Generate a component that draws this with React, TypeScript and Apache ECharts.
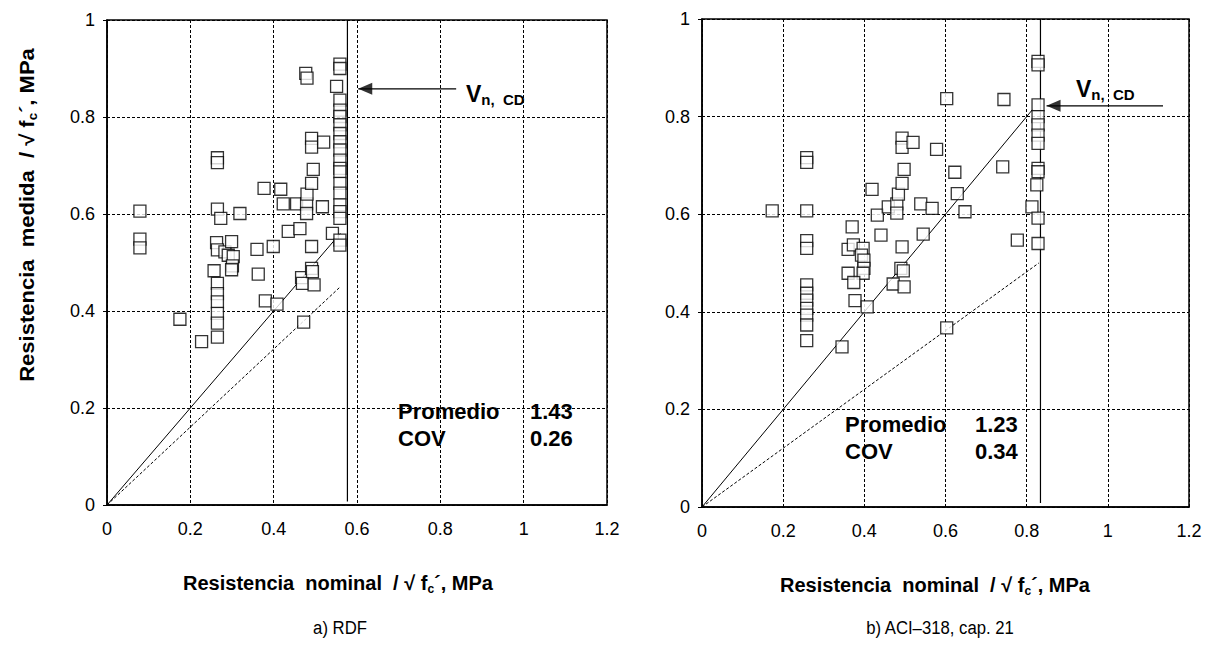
import React, { useEffect, useRef } from "react";
import * as echarts from "echarts";

// ---------- data ----------
const rdfPoints: number[][] = [
  [0.079, 0.606], [0.079, 0.548], [0.079, 0.53],
  [0.175, 0.383], [0.227, 0.337],
  [0.265, 0.716], [0.265, 0.706], [0.265, 0.61], [0.273, 0.591],
  [0.263, 0.541], [0.265, 0.526], [0.257, 0.483],
  [0.265, 0.457], [0.265, 0.436], [0.265, 0.419], [0.265, 0.395], [0.265, 0.375], [0.265, 0.346],
  [0.283, 0.522], [0.291, 0.515], [0.299, 0.543], [0.303, 0.512], [0.301, 0.493], [0.299, 0.485],
  [0.319, 0.601], [0.36, 0.527], [0.363, 0.476], [0.377, 0.653], [0.38, 0.421],
  [0.399, 0.533], [0.408, 0.414], [0.417, 0.651], [0.423, 0.621], [0.435, 0.564],
  [0.455, 0.621], [0.463, 0.57], [0.467, 0.469], [0.469, 0.457], [0.472, 0.377],
  [0.477, 0.89], [0.48, 0.88], [0.479, 0.621], [0.48, 0.641], [0.479, 0.601],
  [0.491, 0.663], [0.495, 0.692], [0.491, 0.756], [0.491, 0.738], [0.52, 0.748],
  [0.517, 0.615], [0.491, 0.533], [0.491, 0.488], [0.493, 0.481], [0.497, 0.454],
  [0.541, 0.56], [0.551, 0.863],
  [0.559, 0.909], [0.559, 0.9], [0.559, 0.835], [0.559, 0.814], [0.559, 0.801], [0.559, 0.784],
  [0.559, 0.766], [0.559, 0.749], [0.559, 0.732], [0.559, 0.711], [0.559, 0.694], [0.559, 0.687],
  [0.559, 0.663], [0.559, 0.643], [0.559, 0.619], [0.559, 0.605], [0.559, 0.591], [0.559, 0.546],
  [0.559, 0.536],
];

const aciPoints: number[][] = [
  [0.173, 0.607],
  [0.258, 0.716], [0.258, 0.706], [0.258, 0.607], [0.258, 0.546], [0.258, 0.53],
  [0.258, 0.455], [0.258, 0.438], [0.258, 0.424], [0.258, 0.407], [0.258, 0.393], [0.258, 0.373], [0.258, 0.341],
  [0.345, 0.328], [0.36, 0.528], [0.373, 0.537], [0.397, 0.53], [0.393, 0.516], [0.399, 0.506],
  [0.399, 0.489], [0.397, 0.479], [0.36, 0.479], [0.374, 0.46], [0.377, 0.423], [0.407, 0.41],
  [0.37, 0.574], [0.419, 0.651], [0.441, 0.557], [0.432, 0.598], [0.459, 0.615], [0.48, 0.621],
  [0.48, 0.602], [0.484, 0.641], [0.493, 0.663], [0.498, 0.692], [0.493, 0.756], [0.493, 0.737],
  [0.52, 0.747], [0.578, 0.733], [0.539, 0.621], [0.567, 0.612], [0.545, 0.559], [0.493, 0.533],
  [0.49, 0.489], [0.496, 0.484], [0.471, 0.457], [0.498, 0.451], [0.603, 0.367], [0.603, 0.837],
  [0.744, 0.835], [0.741, 0.697], [0.629, 0.642], [0.623, 0.686], [0.648, 0.605], [0.777, 0.547],
  [0.813, 0.615],
  [0.828, 0.913], [0.828, 0.906], [0.828, 0.824], [0.828, 0.8], [0.828, 0.783], [0.828, 0.762],
  [0.828, 0.745], [0.828, 0.694], [0.828, 0.687], [0.825, 0.66], [0.828, 0.592], [0.828, 0.54],
];

const rdfIdentity = [[0, 0], [0.56, 0.56]];
const rdfDashed = [[0, 0], [0.56, 0.45]];
const rdfLimit = [[0.577, 0.007], [0.577, 1]];
const rdfArrow = [[0.838, 0.858], [0.603, 0.858]];

const aciIdentity = [[0, 0], [0.815, 0.815]];
const aciDashed = [[0, 0], [0.83, 0.5]];
const aciLimit = [[0.834, 0.008], [0.834, 1]];
const aciArrow = [[1.136, 0.822], [0.849, 0.822]];

const statLabels = ["Promedio", "COV"];
const rdfStats = ["1.43", "0.26"];
const aciStats = ["1.23", "0.34"];

const panelCaptions = ["a) RDF", "b) ACI\u2013318, cap. 21"];

const FONT = "'Liberation Sans', Arial, sans-serif";

function xAxisFor(gridIndex: number) {
  return {
    type: "value",
    gridIndex,
    min: 0,
    max: 1.2,
    interval: 0.2,
    axisLine: { show: true, onZero: false, lineStyle: { color: "#000", width: 1.5 } },
    axisTick: { show: false },
    axisLabel: { color: "#000", fontSize: 18, fontFamily: FONT, margin: 15, showMinLabel: true, showMaxLabel: true },
    splitLine: { show: true, lineStyle: { color: "#000", width: 1, type: [3, 2] } },
  };
}
function yAxisFor(gridIndex: number) {
  return {
    type: "value",
    gridIndex,
    min: 0,
    max: 1,
    interval: 0.2,
    axisLine: { show: true, onZero: false, lineStyle: { color: "#000", width: 1.5 } },
    axisTick: { show: true, length: 4, lineStyle: { color: "#000" } },
    axisLabel: { color: "#000", fontSize: 18, fontFamily: FONT, margin: 12 },
    splitLine: { show: true, lineStyle: { color: "#000", width: 1, type: [3, 2] } },
  };
}

function panelSeries(idx: number, pts: number[][], ident: number[][], dash: number[][], limit: number[][], arrow: number[][]) {
  const base = { xAxisIndex: idx, yAxisIndex: idx, silent: true };
  return [
    { ...base, type: "line", data: ident, symbol: "none", z: 2, lineStyle: { color: "#000", width: 1 } },
    { ...base, type: "line", data: dash, symbol: "none", z: 2, lineStyle: { color: "#000", width: 1, type: [3, 2] } },
    { ...base, type: "line", data: limit, symbol: "none", z: 2, lineStyle: { color: "#000", width: 1.2 } },
    // arrow shaft
    { ...base, type: "line", data: arrow, symbol: "none", z: 3, lineStyle: { color: "#000", width: 1.3 } },
    // arrow head (tip placed on the arrow end point)
    {
      ...base, type: "scatter", data: [arrow[1]], symbol: "triangle", symbolRotate: 90,
      symbolSize: [12, 14], symbolOffset: [7, 0], z: 4,
      itemStyle: { color: "#000" },
    },
    {
      ...base, type: "scatter", data: pts, symbol: "rect", symbolSize: 12, z: 5,
      itemStyle: { color: "#fff", borderColor: "#000", borderWidth: 1.3 },
    },
  ];
}

const richMain = (size: number, weight: string) => ({
  b: { fontSize: size, fontWeight: weight, fontFamily: FONT, fill: "#000", lineHeight: size + 4 },
  s: { fontSize: Math.round(size * 0.62), fontWeight: weight, fontFamily: FONT, fill: "#000", lineHeight: Math.round(size * 0.62), verticalAlign: "bottom" },
});

function statTexts(x1: number, x2: number, y: number, vals: string[]) {
  const st = { fontSize: 22, fontWeight: "bold", fontFamily: FONT, fill: "#000", verticalAlign: "middle" };
  return [
    { type: "text", x: x1, y: y, style: { ...st, text: statLabels[0], align: "left" } },
    { type: "text", x: x1, y: y + 27, style: { ...st, text: statLabels[1], align: "left" } },
    { type: "text", x: x2, y: y, style: { ...st, text: vals[0], align: "left" } },
    { type: "text", x: x2, y: y + 27, style: { ...st, text: vals[1], align: "left" } },
  ];
}

function vnLabel(x: number, y: number) {
  return {
    type: "text", x, y,
    style: {
      text: "{v|V}{s|n,  CD}",
      align: "left", verticalAlign: "middle",
      rich: {
        v: { fontSize: 23, fontWeight: "bold", fontFamily: FONT, fill: "#000", lineHeight: 26 },
        s: { fontSize: 15, fontWeight: "bold", fontFamily: FONT, fill: "#000", lineHeight: 14, verticalAlign: "bottom" },
      },
    },
  };
}

function xTitle(cx: number, y: number) {
  return {
    type: "text", x: cx, y,
    style: {
      text: "{b|Resistencia  nominal  / \u221A f}{s|c}{b|\u00B4, MPa}",
      align: "center", verticalAlign: "middle",
      rich: richMain(20, "bold"),
    },
  };
}

export default function App() {
  const ref = useRef<HTMLDivElement>(null);
  useEffect(() => {
    if (!ref.current) return;
    const chart = echarts.init(ref.current, undefined, { renderer: "svg" });
    const option: any = {
      animation: false,
      backgroundColor: "#fff",
      grid: [
        { left: 107, top: 20, width: 500, height: 485, show: true, borderColor: "#000", borderWidth: 1.5, backgroundColor: "transparent" },
        { left: 702, top: 19, width: 487, height: 488, show: true, borderColor: "#000", borderWidth: 1.5, backgroundColor: "transparent" },
      ],
      xAxis: [xAxisFor(0), xAxisFor(1)],
      yAxis: [yAxisFor(0), yAxisFor(1)],
      series: [
        ...panelSeries(0, rdfPoints, rdfIdentity, rdfDashed, rdfLimit, rdfArrow),
        ...panelSeries(1, aciPoints, aciIdentity, aciDashed, aciLimit, aciArrow),
      ],
      graphic: [
        {
          type: "text", x: 27, y: 215, rotation: Math.PI / 2, scaleX: 1.1,
          style: {
            text: "{b|Resistencia  medida  / \u221A f}{s|c}{b|\u00B4, MPa}",
            align: "center", verticalAlign: "middle",
            rich: richMain(20, "bold"),
          },
        },
        xTitle(338, 583),
        xTitle(935, 585),
        { type: "text", x: 340, y: 628, scaleX: 0.88, style: { text: panelCaptions[0], fontSize: 19, fontFamily: FONT, fill: "#000", align: "center", verticalAlign: "middle" } },
        { type: "text", x: 940, y: 628, scaleX: 0.88, style: { text: panelCaptions[1], fontSize: 19, fontFamily: FONT, fill: "#000", align: "center", verticalAlign: "middle" } },
        ...statTexts(398, 530, 411, rdfStats),
        ...statTexts(845, 975, 424, aciStats),
        vnLabel(466, 94),
        vnLabel(1076, 89),
      ],
    };
    chart.setOption(option);
    return () => chart.dispose();
  }, []);
  return <div ref={ref} style={{ position: "fixed", left: 0, top: 0, width: 1212, height: 650 }} />;
}
